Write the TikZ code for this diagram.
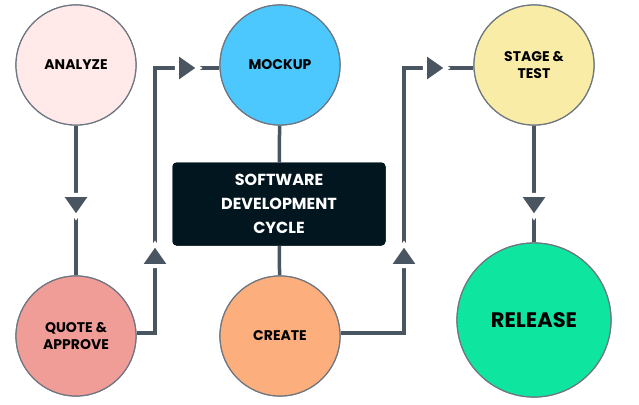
\documentclass[tikz,border=0pt]{standalone}
\usepackage{fontspec}
\setmainfont{Poppins}
\usetikzlibrary{shapes.geometric}
\definecolor{ln}{HTML}{4A5562}
\definecolor{bx}{HTML}{01161E}
\tikzset{
 circ/.style={circle,draw=ln!80,line width=1.2pt,minimum size=#1pt,inner sep=0pt,align=center,font=\bfseries\fontsize{14}{17}\selectfont},
 conn/.style={ln,line width=3.5pt},
 tri/.style={isosceles triangle,isosceles triangle apex angle=70,fill=ln,draw=white,line width=4pt,minimum height=22pt,minimum width=22pt,inner sep=0pt,shape border rotate=#1}
}
\begin{document}
\begin{tikzpicture}[x=1pt,y=-1pt]
\useasboundingbox[fill=white] (0,0) rectangle (639,404);
\coordinate (t1) at (76,203);
\coordinate (c1a) at (155,333);
\coordinate (c1b) at (155,68);
\coordinate (c2a) at (404,333);
\coordinate (c2b) at (404,68);
\coordinate (t4) at (534,203);
\node[circ=120,fill=white] (an) at (76,65) {};
\node[circ=120] (mo) at (280,65) {};
\node[circ=120] (st) at (534,65) {};
\node[circ=120] (qu) at (76,336) {};
\node[circ=120] (cr) at (280,336) {};
\node[circ=154] (re) at (534,320) {};
\node[fill=bx,rounded corners=4pt,minimum width=213pt,minimum height=83pt] (bx) at (279,204) {};
\draw[conn] (an) -- (qu);
\draw[conn] (st) -- (re);
\draw[conn] (mo) -- (bx);
\draw[conn] (bx) -- (cr);
\draw[conn] (qu.east |- c1a) -- (c1a) -- (c1b) -- (mo.west |- c1b);
\draw[conn] (cr.east |- c2a) -- (c2a) -- (c2b) -- (st.west |- c2b);
\node[circ=120,fill=pink!35] at (an) {ANALYZE};
\node[circ=120,fill=cyan!70!blue!50,fill={rgb,255:red,76;green,200;blue,255}] at (mo) {MOCKUP};
\node[circ=120,fill={rgb,255:red,248;green,236;blue,166}] at (st) {STAGE \&\\TEST};
\node[circ=120,fill={rgb,255:red,240;green,157;blue,152}] at (qu) {QUOTE \&\\APPROVE};
\node[circ=120,fill={rgb,255:red,252;green,174;blue,124}] at (cr) {CREATE};
\node[circ=154,fill={rgb,255:red,14;green,230;blue,160},font=\bfseries\fontsize{21}{25}\selectfont] at (re) {RELEASE};
\node[fill=bx,rounded corners=4pt,minimum width=213pt,minimum height=83pt,text=white,align=center,font=\bfseries\fontsize{16}{24}\selectfont] at (bx) {SOFTWARE\\DEVELOPMENT\\CYCLE};
\node[tri=-90] at (t1) {};
\node[tri=-90] at (t4) {};
\node[tri=90] at (155,258) {};
\node[tri=90] at (404,258) {};
\node[tri=0] at (185,68) {};
\node[tri=0] at (433,68) {};
\end{tikzpicture}
\end{document}
